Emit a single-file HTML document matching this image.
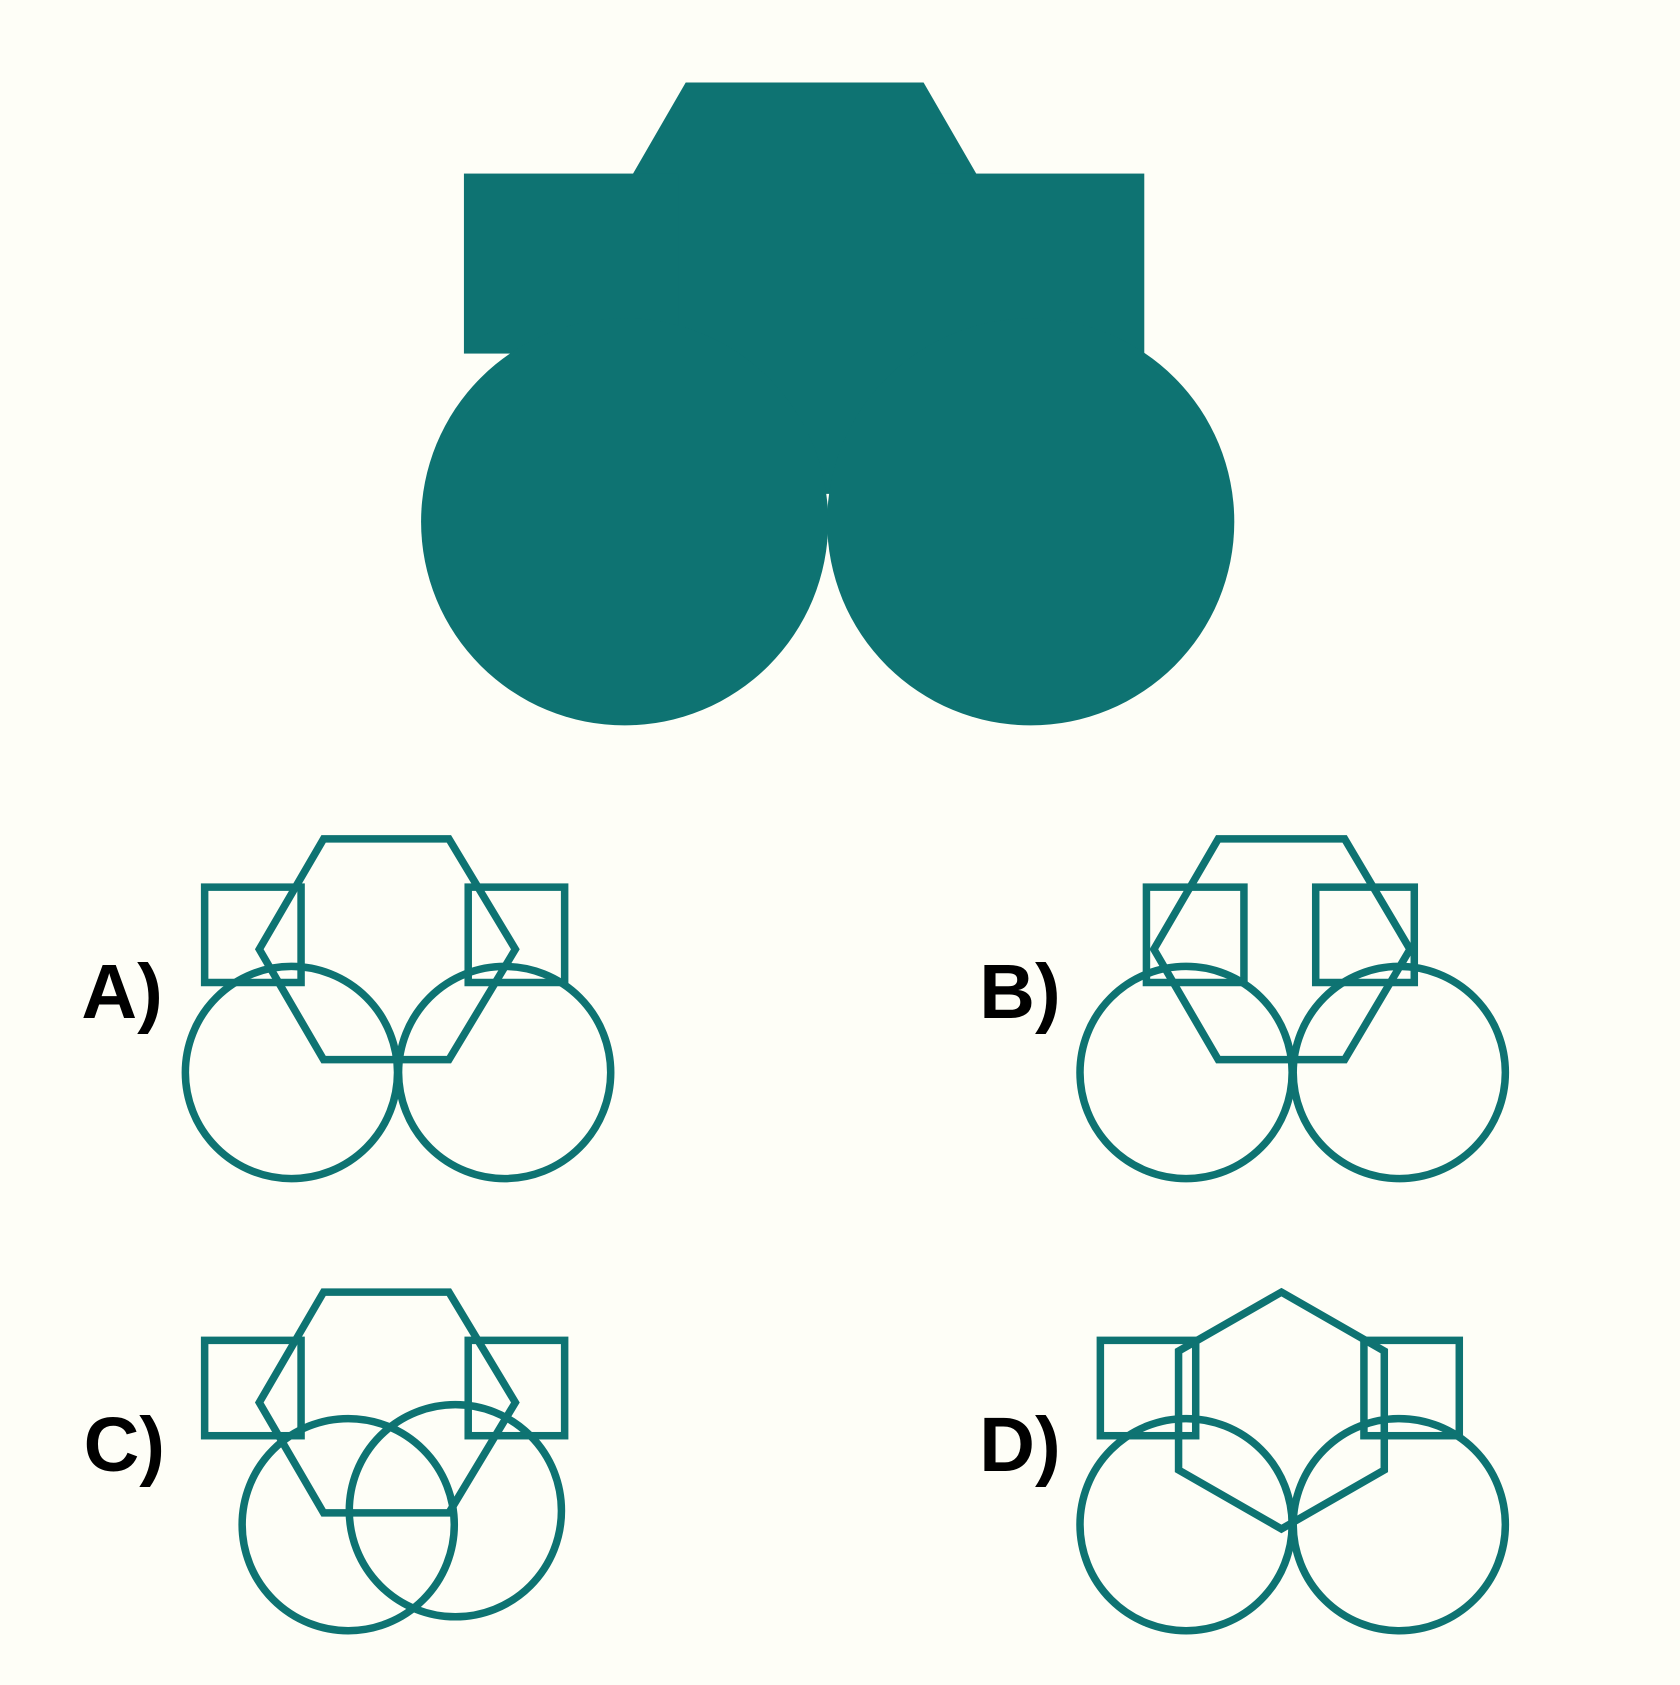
<!DOCTYPE html>
<html><head><style>html,body{margin:0;padding:0;background:#fefef7}</style></head>
<body>
<svg width="1680" height="1680" viewBox="0 0 1568 1568" xmlns="http://www.w3.org/2000/svg">
<rect width="1568" height="1568" fill="#fefef7"/>
<g fill="#0e7372">
<polygon points="640,77 862,77 973,269 862,461 640,461 529,269"/>
<rect x="433" y="162" width="200" height="168"/>
<rect x="868" y="162" width="200" height="168"/>
<circle cx="583" cy="487" r="190"/>
<circle cx="962" cy="487" r="190"/>
</g>
<g fill="none" stroke="#0e7372" stroke-width="7">
<polygon points="302,783 419,783 481,886 419,989 302,989 242,886"/>
<rect x="191" y="828" width="90" height="89"/>
<rect x="437" y="828" width="90" height="89"/>
<circle cx="272" cy="1001" r="99"/>
<circle cx="471" cy="1001" r="99"/>

<polygon points="1137,783 1255,783 1316,886 1255,989 1137,989 1077,886"/>
<rect x="1070" y="828" width="91" height="89"/>
<rect x="1228" y="828" width="92" height="89"/>
<circle cx="1107" cy="1001" r="99"/>
<circle cx="1306" cy="1001" r="99"/>

<polygon points="302,1206 419,1206 481,1309 419,1412 302,1412 242,1309"/>
<rect x="191" y="1251" width="90" height="89"/>
<rect x="437" y="1251" width="90" height="89"/>
<circle cx="325" cy="1423" r="99"/>
<circle cx="425" cy="1410" r="99"/>

<polygon points="1196,1206 1292,1261 1292,1372 1196,1427 1100,1372 1100,1261"/>
<rect x="1027" y="1251" width="89" height="89"/>
<rect x="1273" y="1251" width="89" height="89"/>
<circle cx="1107" cy="1423" r="99"/>
<circle cx="1306" cy="1423" r="99"/>
</g>
<g font-family="Liberation Sans, sans-serif" font-weight="bold" font-size="72" fill="#000">
<text x="76" y="950">A)</text>
<text x="914" y="950">B)</text>
<text x="78" y="1373">C)</text>
<text x="914" y="1373">D)</text>
</g>
</svg>
</body></html>
